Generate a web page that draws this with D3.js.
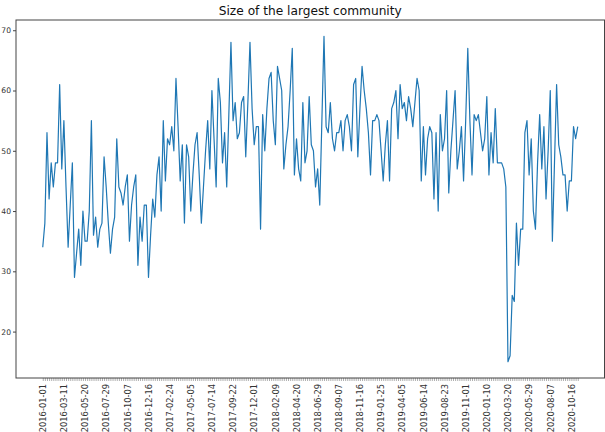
<!DOCTYPE html>
<html>
<head>
<meta charset="utf-8">
<script src="https://cdn.jsdelivr.net/npm/d3@7"></script>
<style>
  html, body { margin: 0; padding: 0; background: #fff; }
  svg { display: block; font-family: "DejaVu Sans", sans-serif; }
</style>
</head>
<body>
<svg id="chart" width="605" height="432"></svg>
<script>
// Weekly size of the largest community, starting 2016-01-01
const startDate = "2016-01-01";
const sizes = [
  34, 38, 53, 42, 48, 44, 48, 48, 61, 47, 55, 44, 34, 41, 48, 29, 33, 37, 31, 40,
  35, 35, 40, 55, 36, 39, 34, 37, 38, 49, 44, 38, 33, 37, 39, 52, 44, 43, 41, 44,
  46, 35, 41, 44, 46, 31, 39, 35, 41, 41, 29, 36, 42, 39, 46, 49, 40, 55, 45, 52,
  51, 54, 50, 62, 54, 45, 51, 38, 51, 49, 40, 46, 51, 53, 46, 38, 44, 50, 55, 47,
  60, 52, 44, 62, 58, 48, 53, 44, 56, 68, 55, 58, 52, 53, 58, 59, 49, 58, 68, 57,
  51, 54, 54, 37, 56, 50, 57, 62, 63, 55, 51, 64, 62, 60, 47, 51, 54, 60, 67, 46,
  52, 47, 45, 58, 48, 50, 59, 51, 50, 44, 47, 41, 55, 69, 54, 53, 58, 52, 50, 53,
  53, 55, 50, 55, 56, 54, 50, 61, 62, 49, 57, 64, 60, 57, 53, 46, 55, 55, 56, 55,
  50, 45, 51, 55, 45, 57, 58, 60, 52, 61, 57, 58, 55, 59, 57, 54, 58, 62, 60, 45,
  54, 46, 52, 54, 53, 42, 53, 40, 56, 50, 52, 60, 43, 50, 55, 60, 47, 50, 54, 45,
  55, 67, 55, 46, 56, 55, 56, 53, 50, 52, 59, 46, 53, 48, 57, 48, 48, 48, 47, 44,
  15, 16, 26, 25, 38, 31, 37, 37, 53, 55, 46, 52, 40, 37, 48, 56, 47, 54, 42, 50,
  60, 35, 48, 61, 51, 49, 46, 46, 40, 45, 45, 54, 52, 54
];
// Every tenth week carries a date label
const tickLabels = [
  "2016-01-01", "2016-03-11", "2016-05-20", "2016-07-29", "2016-10-07", "2016-12-16",
  "2017-02-24", "2017-05-05", "2017-07-14", "2017-09-22", "2017-12-01", "2018-02-09",
  "2018-04-20", "2018-06-29", "2018-09-07", "2018-11-16", "2019-01-25", "2019-04-05",
  "2019-06-14", "2019-08-23", "2019-11-01", "2020-01-10", "2020-03-20", "2020-05-29",
  "2020-08-07", "2020-10-16"
];
const yTicks = [20, 30, 40, 50, 60, 70];
const labelEvery = 10;

const svg = d3.select("#chart");
const plot = { left: 16, right: 604.5, top: 20, bottom: 378 };

const n = sizes.length;
const xPad = (n - 1) * 0.05;
const x = d3.scaleLinear()
  .domain([-xPad, n - 1 + xPad])
  .range([plot.left, plot.right]);

const [yMin, yMax] = d3.extent(sizes);
const yPad = (yMax - yMin) * 0.05;
const y = d3.scaleLinear()
  .domain([yMin - yPad, yMax + yPad])
  .range([plot.bottom, plot.top]);

// Title
svg.append("text")
  .attr("x", (plot.left + plot.right) / 2)
  .attr("y", 15)
  .attr("text-anchor", "middle")
  .attr("font-size", 12.2)
  .attr("fill", "#111")
  .text("Size of the largest community");

// Y axis
const yAxis = d3.axisLeft(y).tickValues(yTicks).tickSize(3).tickPadding(2);
const gy = svg.append("g")
  .attr("transform", `translate(${plot.left},0)`)
  .call(yAxis);
gy.select(".domain").remove();
gy.selectAll("line").attr("stroke", "#444");
gy.selectAll("text").attr("font-size", 7.6).attr("fill", "#333")
  .attr("font-family", "DejaVu Sans, sans-serif");

// X axis: a tick for every week, a label for every tenth
const idx = d3.range(n);
const xAxis = d3.axisBottom(x)
  .tickValues(idx)
  .tickSize(3)
  .tickPadding(2)
  .tickFormat(i => (i % labelEvery === 0 && tickLabels[i / labelEvery]) ? tickLabels[i / labelEvery] : "");
const gx = svg.append("g")
  .attr("transform", `translate(0,${plot.bottom})`)
  .call(xAxis);
gx.select(".domain").remove();
gx.selectAll("line").attr("stroke", "#999").attr("stroke-width", 0.8);
gx.selectAll("text")
  .attr("font-size", 8.3)
  .attr("fill", "#333")
  .attr("font-family", "DejaVu Sans, sans-serif")
  .attr("text-anchor", "end")
  .attr("dy", "0.33em")
  .attr("transform", "translate(0,6) rotate(-90)")
  .attr("x", 0)
  .attr("y", 0);

// Frame
svg.append("rect")
  .attr("x", plot.left)
  .attr("y", plot.top)
  .attr("width", plot.right - plot.left)
  .attr("height", plot.bottom - plot.top)
  .attr("fill", "none")
  .attr("stroke", "#444")
  .attr("stroke-width", 1);

// Series line
const line = d3.line()
  .x((d, i) => x(i))
  .y(d => y(d));
svg.append("path")
  .datum(sizes)
  .attr("fill", "none")
  .attr("stroke", "#1f77b4")
  .attr("stroke-width", 1.2)
  .attr("stroke-linejoin", "round")
  .attr("d", line);
</script>
</body>
</html>
